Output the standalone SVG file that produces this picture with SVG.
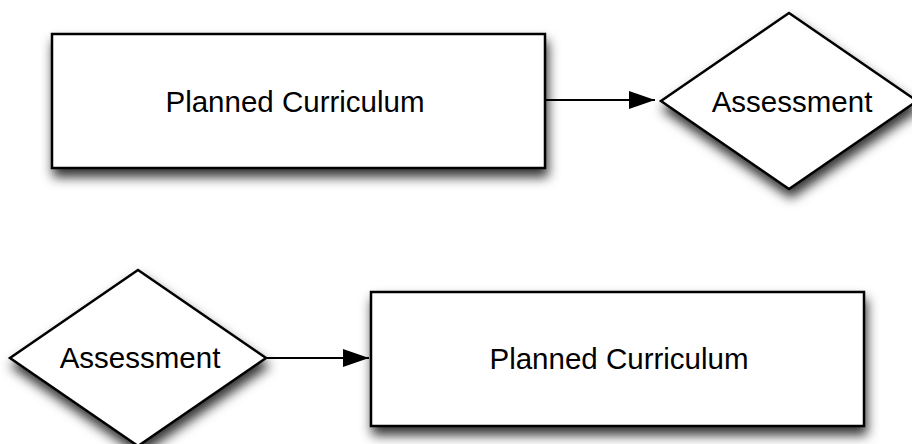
<svg xmlns="http://www.w3.org/2000/svg" width="912" height="444" viewBox="0 0 912 444">
<style>
.shape{fill:#fff;stroke:#000;stroke-width:2.5;filter:url(#sh)}
.lbl{font-family:"Liberation Sans",Arial,Helvetica,sans-serif;font-size:29.5px;fill:#000;text-anchor:middle}
.conn{stroke:#000;stroke-width:2;fill:none}
</style>
<defs>
<filter id="sh" x="-20%" y="-30%" width="140%" height="170%">
<feDropShadow dx="2" dy="8" stdDeviation="6" flood-color="#000" flood-opacity="0.8"/>
</filter>
<marker id="ah" markerWidth="26" markerHeight="18" refX="26" refY="9" orient="auto" markerUnits="userSpaceOnUse">
<path d="M0,0 L26,9 L0,18 Z" fill="#000"/>
</marker>
</defs>
<g id="connectors">
<line class="conn" x1="546" y1="100" x2="655" y2="100" marker-end="url(#ah)"/>
<line class="conn" x1="266" y1="358" x2="369" y2="358" marker-end="url(#ah)"/>
</g>
<g id="node-curriculum-top">
<rect class="shape" x="52" y="34" width="493" height="134"/>
<text class="lbl" x="295" y="112">Planned Curriculum</text>
</g>
<g id="node-assessment-top">
<polygon class="shape" points="789,13 917,101 789,189 661,101"/>
<text class="lbl" x="792" y="112">Assessment</text>
</g>
<g id="node-assessment-bottom">
<polygon class="shape" points="138,270 266,358 138,446 10,358"/>
<text class="lbl" x="140" y="368">Assessment</text>
</g>
<g id="node-curriculum-bottom">
<rect class="shape" x="371" y="292" width="493" height="134"/>
<text class="lbl" x="619" y="369">Planned Curriculum</text>
</g>
</svg>
